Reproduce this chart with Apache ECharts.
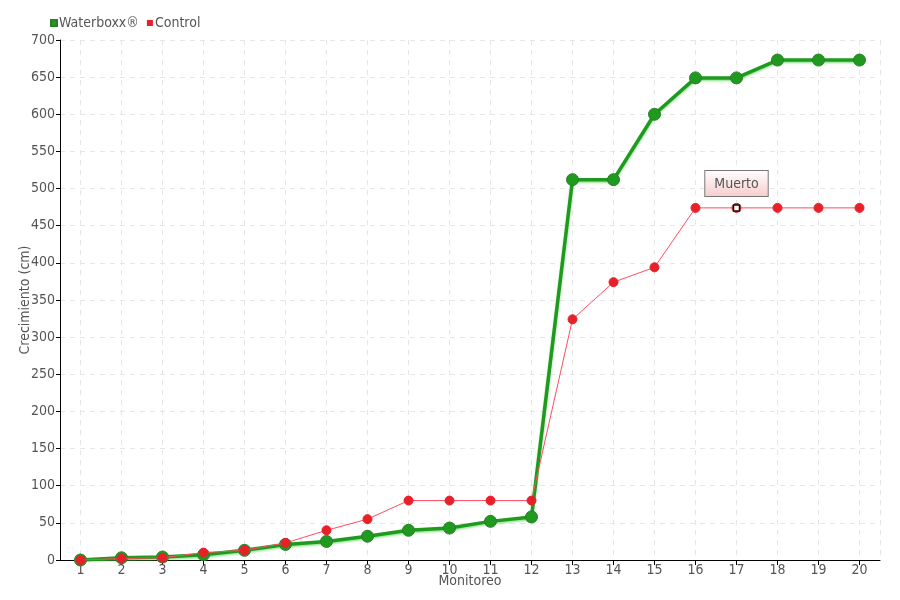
<!DOCTYPE html>
<html><head><meta charset="utf-8">
<script src="https://cdn.jsdelivr.net/npm/echarts@6/dist/echarts.min.js"></script>
<style>html,body{margin:0;padding:0;background:#fff}#c{width:900px;height:600px}</style>
</head><body><div id="c"></div>
<script>
const categories = ['1','2','3','4','5','6','7','8','9','10','11','12','13','14','15','16','17','18','19','20'];
const waterboxx = [0,3,4,7,13,21,25,32,40,43,52,58,512,512,600,649,649,673,673,673];
const control = [0,2,3,10,13,23,40,55,80,80,80,80,324,374,394,474,474,474,474,474];
const deadIndex = 16;
const deadLabel = 'Muerto';

const FONT = '"DejaVu Sans Condensed", "DejaVu Sans", sans-serif';
const TXT = '#555';
const FS = 14;
const chart = echarts.init(document.getElementById('c'));
chart.setOption({
  animation: false,
  textStyle: {fontFamily: FONT},
  legend: {
    left: 45, top: 11, itemWidth: 6, itemHeight: 6, itemGap: 8,
    icon: 'rect',
    textStyle: {fontFamily: FONT, fontSize: FS, color: TXT, padding: [0,0,0,-3]},
    data: ['Waterboxx®','Control']
  },
  grid: {left: 60, right: 20, top: 40, bottom: 40, containLabel: false, outerBoundsMode: 'none'},
  xAxis: [{
    type: 'category', data: categories, boundaryGap: true,
    name: 'Monitoreo', nameLocation: 'middle', nameGap: 14, nameMoveOverlap: false,
    nameTextStyle: {fontFamily: FONT, fontSize: FS, color: TXT},
    axisLine: {onZero: false, lineStyle: {color: '#000', width: 1}},
    axisTick: {show: true, alignWithLabel: true, length: 5, lineStyle: {color: '#000'}},
    axisLabel: {fontFamily: FONT, fontSize: FS, color: TXT, margin: 3, interval: 0},
    splitLine: {show: false}
  }, {
    type: 'value', min: 0.5, max: 20.5, splitNumber: 20, position: 'bottom',
    axisLine: {show: false, onZero: false}, axisTick: {show: false}, axisLabel: {show: false},
    splitLine: {show: true, lineStyle: {color: '#e6e6e6', type: [5,5]}}
  }],
  yAxis: {
    type: 'value', min: 0, max: 700, interval: 50,
    name: 'Crecimiento (cm)', nameLocation: 'middle', nameGap: 28, nameMoveOverlap: false,
    nameTextStyle: {fontFamily: FONT, fontSize: FS, color: TXT},
    axisLine: {show: true, onZero: false, lineStyle: {color: '#000', width: 1}},
    axisTick: {show: true, length: 4, lineStyle: {color: '#000'}},
    axisLabel: {fontFamily: FONT, fontSize: FS, color: TXT, margin: 5},
    splitLine: {show: true, lineStyle: {color: '#e6e6e6', type: [5,5]}}
  },
  series: [
    {
      name: 'Waterboxx®', type: 'line', data: waterboxx, xAxisIndex: 0,
      symbol: 'circle', symbolSize: 12, z: 2,
      itemStyle: {color: '#1f9a1f', borderColor: '#2b7d2b', borderWidth: 1},
      lineStyle: {color: '#1f9a1f', width: 3.5, shadowColor: 'rgba(80,210,80,0.6)', shadowBlur: 2, shadowOffsetY: 1.5}
    },
    {
      name: 'Control', type: 'line', z: 3, xAxisIndex: 0,
      data: control.map((v, i) => i === deadIndex ? {
        value: v,
        label: {
          show: true, position: 'top', distance: 7, formatter: deadLabel,
          fontFamily: FONT, fontSize: FS, color: TXT,
          padding: [6,9,5,9],
          borderColor: '#777', borderWidth: 1,
          backgroundColor: {type: 'linear', x: 0, y: 0, x2: 0, y2: 1,
            colorStops: [{offset: 0, color: '#ffffff'}, {offset: 1, color: '#f8cccc'}]}
        }
      } : v),
      symbol: 'circle', symbolSize: 9,
      itemStyle: {color: '#e8202a', borderColor: '#e8202a'},
      lineStyle: {color: '#ff4d5e', width: 1},
      markPoint: {
        symbol: 'rect', symbolSize: 6, silent: true,
        itemStyle: {color: '#fff', borderColor: '#111', borderWidth: 1.5},
        label: {show: false},
        data: [{coord: [categories[deadIndex], control[deadIndex]]}]
      }
    }
  ]
});
</script></body></html>
